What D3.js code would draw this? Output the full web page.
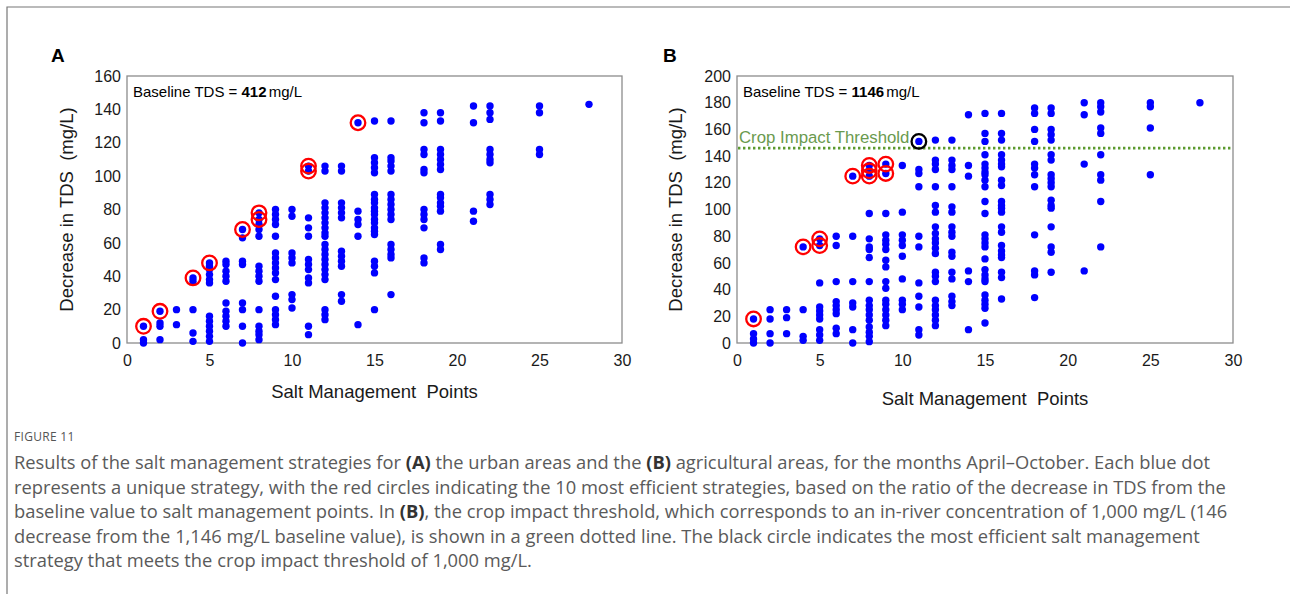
<!DOCTYPE html>
<html>
<head>
<meta charset="utf-8">
<script src="https://cdn.jsdelivr.net/npm/d3@7"></script>
<style>
  html, body { margin: 0; padding: 0; background: #fff; }
  svg { display: block; }
</style>
</head>
<body>
<div id="chart"></div>
<script>
// Panel A: urban areas. One entry per x, with all the y values in that column.
const xA = [1, 2, 3, 4, 5, 6, 7, 8, 9, 10, 11, 12, 13, 14, 15, 16, 18, 19, 21, 22, 25, 28];
const yA = [
  [10, 2, 0],
  [19, 12, 10, 2],
  [20, 11],
  [39, 37, 20, 6, 1],
  [48, 46, 44, 41, 38, 36, 16, 13, 10, 7, 4, 1],
  [49, 47, 43, 40, 37, 24, 19, 16, 13, 10],
  [68, 63, 49, 47, 24, 20, 10, 0],
  [78, 74, 71, 68, 64, 46, 43, 40, 37, 20, 10, 7, 5, 2],
  [80, 77, 74, 71, 64, 54, 51, 48, 45, 42, 38, 28, 20, 17, 14, 11],
  [80, 76, 54, 51, 48, 29, 26, 21],
  [106, 103, 75, 69, 64, 50, 47, 44, 39, 36, 10, 5],
  [106, 103, 84, 81, 78, 75, 72, 69, 66, 64, 59, 56, 53, 50, 47, 44, 41, 38, 20, 17, 14],
  [106, 103, 84, 81, 78, 75, 55, 52, 49, 46, 29, 25],
  [132, 79, 74, 71, 64, 11],
  [133, 111, 108, 105, 102, 89, 86, 84, 81, 79, 77, 74, 72, 69, 67, 65, 49, 46, 42, 20],
  [133, 111, 109, 106, 103, 89, 86, 83, 80, 77, 74, 59, 56, 53, 51, 29],
  [138, 132, 116, 113, 104, 102, 80, 77, 74, 69, 51, 48],
  [138, 133, 116, 113, 110, 107, 104, 89, 87, 84, 82, 79, 59, 56],
  [142, 132, 79, 73],
  [142, 138, 134, 116, 113, 110, 108, 89, 86, 83],
  [142, 138, 116, 113],
  [143],
];
// the 10 most efficient strategies (red circles)
const bestA = [[1, 10], [2, 19], [4, 39], [5, 48], [7, 68], [8, 78], [8, 74], [11, 106], [11, 103], [14, 132]];

// Panel B: agricultural areas.
const xB = [1, 2, 3, 4, 5, 6, 7, 8, 9, 10, 11, 12, 13, 14, 15, 16, 18, 19, 21, 22, 25, 28];
const yB = [
  [18, 7, 3, 0],
  [25, 18, 7, 0],
  [25, 19, 7],
  [72, 25, 5, 2],
  [78, 73, 45, 27, 24, 21, 18, 10, 6, 2],
  [80, 73, 46, 31, 28, 25, 22, 11, 7],
  [125, 80, 46, 30, 27, 10, 0],
  [133, 129, 125, 97, 78, 72, 70, 64, 46, 32, 28, 25, 21, 17, 12, 8, 5, 1],
  [134, 127, 97, 81, 77, 74, 70, 62, 57, 46, 41, 32, 29, 25, 21, 17, 13],
  [133, 98, 81, 77, 73, 65, 48, 32, 29, 25],
  [151, 130, 127, 117, 80, 72, 45, 35, 27, 10, 6],
  [152, 137, 134, 130, 117, 103, 98, 87, 82, 78, 75, 71, 67, 53, 50, 46, 32, 28, 25, 21, 17, 13],
  [152, 137, 133, 130, 117, 102, 98, 87, 83, 80, 68, 65, 53, 48, 35, 31, 28],
  [171, 133, 125, 54, 46, 10],
  [172, 157, 151, 141, 134, 131, 128, 126, 122, 117, 106, 97, 81, 78, 75, 72, 63, 55, 51, 48, 46, 36, 32, 29, 26, 15],
  [172, 157, 152, 141, 137, 134, 132, 122, 118, 106, 103, 101, 98, 87, 83, 73, 69, 66, 64, 53, 49, 33],
  [176, 172, 160, 151, 134, 131, 126, 117, 81, 54, 51, 34],
  [176, 172, 160, 156, 152, 141, 137, 126, 123, 120, 117, 107, 103, 101, 87, 72, 68, 53],
  [180, 171, 134, 54],
  [180, 177, 173, 161, 157, 141, 126, 122, 106, 72],
  [180, 177, 161, 126],
  [180],
];
const bestB = [[1, 18], [4, 72], [5, 78], [5, 73], [7, 125], [8, 133], [8, 129], [8, 125], [9, 134], [9, 127]];
// most efficient strategy meeting the crop threshold (black circle)
const thresholdPickB = [[11, 151]];
const cropThresholdB = 146;

const xTicks = [0, 5, 10, 15, 20, 25, 30];
const yTicksA = [0, 20, 40, 60, 80, 100, 120, 140, 160];
const yTicksB = [0, 20, 40, 60, 80, 100, 120, 140, 160, 180, 200];

const captionLines = [
  ["Results of the salt management strategies for ", ["(A)"], " the urban areas and the ", ["(B)"], " agricultural areas, for the months April\u2013October. Each blue dot"],
  ["represents a unique strategy, with the red circles indicating the 10 most efficient strategies, based on the ratio of the decrease in TDS from the"],
  ["baseline value to salt management points. In ", ["(B)"], ", the crop impact threshold, which corresponds to an in-river concentration of 1,000 mg/L (146"],
  ["decrease from the 1,146 mg/L baseline value), is shown in a green dotted line. The black circle indicates the most efficient salt management"],
  ["strategy that meets the crop impact threshold of 1,000 mg/L."],
];

const W = 1290, H = 594;
const chartFont = "'Liberation Sans', Arial, sans-serif";

const svg = d3.select("#chart")
  .append("svg")
  .attr("width", W)
  .attr("height", H);

// page frame (top + left rule)
svg.append("path")
  .attr("d", `M7,${H} V7 H${W}`)
  .attr("fill", "none")
  .attr("stroke", "#777")
  .attr("stroke-width", 1.2);

function toPoints(xs, ys) {
  const pts = [];
  xs.forEach((x, i) => ys[i].forEach((y) => pts.push([x, y])));
  return pts;
}

function panel(opt) {
  const x = d3.scaleLinear().domain([0, 30]).range([opt.left, opt.right]);
  const y = d3.scaleLinear().domain([0, opt.yMax]).range([opt.bottom, opt.top]);

  const g = svg.append("g").attr("font-family", chartFont);

  g.append("rect")
    .attr("x", opt.left)
    .attr("y", opt.top)
    .attr("width", opt.right - opt.left)
    .attr("height", opt.bottom - opt.top)
    .attr("fill", "none")
    .attr("stroke", "#8c8c8c")
    .attr("stroke-width", 1.3);

  const xAxis = g.append("g")
    .attr("transform", `translate(0,${opt.bottom})`)
    .call(d3.axisBottom(x).tickValues(xTicks).tickSize(0).tickPadding(12));
  const yAxis = g.append("g")
    .attr("transform", `translate(${opt.left},0)`)
    .call(d3.axisLeft(y).tickValues(opt.yTicks).tickSize(0).tickPadding(6));
  [xAxis, yAxis].forEach((a) => {
    a.select(".domain").remove();
    a.selectAll("text")
      .attr("font-family", chartFont)
      .attr("font-size", 16)
      .attr("fill", "#1a1a1a");
  });

  if (opt.threshold !== undefined) {
    g.append("line")
      .attr("x1", opt.left + 1)
      .attr("x2", opt.right)
      .attr("y1", y(opt.threshold))
      .attr("y2", y(opt.threshold))
      .attr("stroke", "#5b9a2f")
      .attr("stroke-width", 2.6)
      .attr("stroke-dasharray", "2.4,2.6");
    g.append("text")
      .attr("x", opt.left + 2)
      .attr("y", y(opt.threshold) - 5)
      .attr("font-size", 16.8)
      .attr("fill", "#6a9a4e")
      .text("Crop Impact Threshold");
  }

  g.append("g")
    .selectAll("circle")
    .data(toPoints(opt.xs, opt.ys))
    .join("circle")
    .attr("cx", (d) => x(d[0]))
    .attr("cy", (d) => y(d[1]))
    .attr("r", 3.7)
    .attr("fill", "#0000ff");

  g.append("g")
    .selectAll("circle")
    .data(opt.best)
    .join("circle")
    .attr("cx", (d) => x(d[0]))
    .attr("cy", (d) => y(d[1]))
    .attr("r", 7.3)
    .attr("fill", "none")
    .attr("stroke", "#ff0000")
    .attr("stroke-width", 2.3);

  if (opt.pick) {
    g.append("g")
      .selectAll("circle")
      .data(opt.pick)
      .join("circle")
      .attr("cx", (d) => x(d[0]))
      .attr("cy", (d) => y(d[1]))
      .attr("r", 7.3)
      .attr("fill", "none")
      .attr("stroke", "#000")
      .attr("stroke-width", 2.3);
  }

  const base = g.append("text")
    .attr("x", opt.left + 6)
    .attr("y", opt.top + 21)
    .attr("font-size", 15)
    .attr("fill", "#000");
  base.append("tspan").text("Baseline TDS = ");
  base.append("tspan").attr("font-weight", "bold").text(opt.baseline);
  base.append("tspan").attr("dx", -2).text(" mg/L");

  g.append("text")
    .attr("x", (opt.left + opt.right) / 2)
    .attr("y", opt.xTitleY)
    .attr("text-anchor", "middle")
    .attr("font-size", 18.5)
    .attr("fill", "#1a1a1a")
    .text("Salt Management  Points")
    .style("white-space", "pre");

  g.append("text")
    .attr("transform", `translate(${opt.yTitleX},${(opt.top + opt.bottom) / 2}) rotate(-90)`)
    .attr("text-anchor", "middle")
    .attr("font-size", 18.5)
    .attr("fill", "#1a1a1a")
    .text("Decrease in TDS  (mg/L)")
    .style("white-space", "pre");

  g.append("text")
    .attr("x", opt.labelX)
    .attr("y", 62)
    .attr("font-size", 19)
    .attr("font-weight", "bold")
    .attr("fill", "#000")
    .text(opt.label);
}

panel({
  label: "A", labelX: 51, left: 127, right: 622, top: 76, bottom: 343,
  yMax: 160, yTicks: yTicksA, xs: xA, ys: yA, best: bestA,
  baseline: "412", xTitleY: 398, yTitleX: 73,
});

panel({
  label: "B", labelX: 663, left: 737, right: 1233, top: 76, bottom: 343,
  yMax: 200, yTicks: yTicksB, xs: xB, ys: yB, best: bestB, pick: thresholdPickB,
  threshold: cropThresholdB, baseline: "1146", xTitleY: 405, yTitleX: 682,
});

// caption
const capFont = "'Open Sans', 'Noto Sans', sans-serif";
svg.append("text")
  .attr("x", 14)
  .attr("y", 441)
  .attr("font-family", capFont)
  .attr("font-size", 12)
  .attr("letter-spacing", 0.3)
  .attr("fill", "#555")
  .text("FIGURE 11");

const cap = svg.append("g")
  .attr("font-family", capFont)
  .attr("font-size", 15.5)
  .attr("fill", "#5a5a5a");

captionLines.forEach((parts, i) => {
  const t = cap.append("text").attr("x", 14).attr("y", 469 + i * 24.5);
  parts.forEach((p) => {
    if (Array.isArray(p)) t.append("tspan").attr("font-weight", "bold").attr("fill", "#333").text(p[0]);
    else t.append("tspan").text(p);
  });
});

// fit the longest caption line to the width it has in the figure
const longest = cap.selectAll("text").nodes()[2];
const fitted = 15.5 * 1214 / longest.getComputedTextLength();
cap.attr("font-size", fitted);
</script>
</body>
</html>
